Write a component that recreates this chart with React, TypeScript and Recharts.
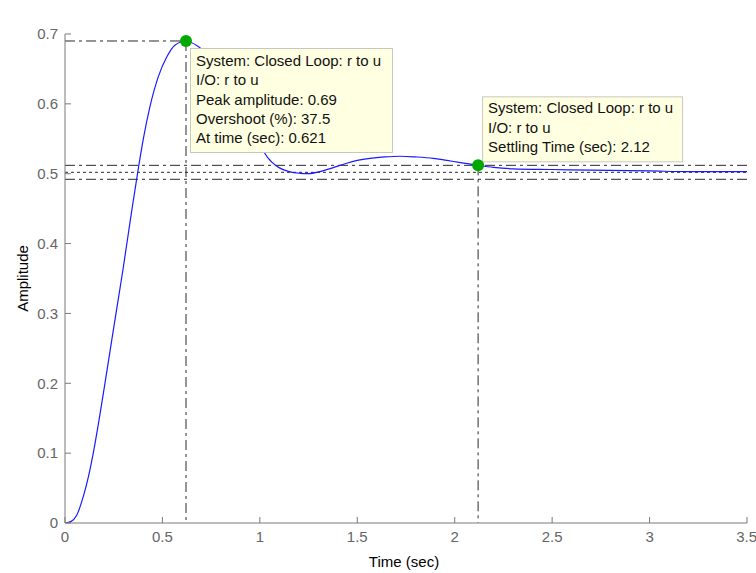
import React from 'react';
import { LineChart, Line, XAxis, YAxis, ReferenceLine, ReferenceDot, Label } from 'recharts';

const timeSec = [
  0, 0.03, 0.06, 0.094, 0.12, 0.145, 0.175, 0.205, 0.248, 0.296, 0.342, 0.376,
  0.402, 0.436, 0.479, 0.522, 0.564, 0.621, 0.684, 0.75, 0.8, 0.85, 0.9, 0.95, 0.99,
  1.026, 1.06, 1.103, 1.15, 1.206, 1.25, 1.308, 1.38, 1.445, 1.5, 1.565, 1.64, 1.719,
  1.8, 1.89, 1.96, 2.03, 2.12, 2.2, 2.3, 2.5, 2.7, 3.0, 3.2, 3.5,
];
const amplitude = [
  0, 0.002, 0.011, 0.038, 0.066, 0.1, 0.148, 0.2, 0.276, 0.36, 0.446, 0.507,
  0.55, 0.596, 0.639, 0.667, 0.684, 0.69, 0.682, 0.665, 0.646, 0.624, 0.6, 0.574, 0.552,
  0.529, 0.517, 0.508, 0.503, 0.5006, 0.5, 0.503, 0.509, 0.515, 0.519, 0.522, 0.524, 0.525,
  0.524, 0.522, 0.519, 0.516, 0.512, 0.509, 0.507, 0.506, 0.505, 0.504, 0.503, 0.503,
];
const xTicks = [0, 0.5, 1, 1.5, 2, 2.5, 3, 3.5];
const yTicks = [0, 0.1, 0.2, 0.3, 0.4, 0.5, 0.6, 0.7];

const peakTime = 0.621;
const peakAmp = 0.69;
const settleTime = 2.12;
const finalValue = 0.502;
const bandHigh = 0.512;
const bandLow = 0.492;

const peakTipLines = [
  'System: Closed Loop: r to u',
  'I/O: r to u',
  'Peak amplitude: 0.69',
  'Overshoot (%): 37.5',
  'At time (sec): 0.621',
];
const settleTipLines = [
  'System: Closed Loop: r to u',
  'I/O: r to u',
  'Settling Time (sec): 2.12',
];

const data = timeSec.map((t, i) => ({ t, v: amplitude[i] }));

const FONT = '"Liberation Sans", Arial, Helvetica, sans-serif';
const AXIS = '#7a7a7a';
const REF = '#2a2a2a';
const DASHDOT = '10 4 3 4';

const makeTip = (lines: string[], dx: number, dy: number, w: number, h: number, tx: number, ty: number) =>
  (props: any) => {
    const { cx, cy } = props;
    return (
      <g>
        <rect x={cx + dx + 0.5} y={cy + dy + 0.5} width={w} height={h} fill="#ffffe1" stroke="#c8c8c0" />
        {lines.map((s, i) => (
          <text key={i} x={cx + dx + tx} y={cy + dy + ty + i * 19.3} fontSize={15} fill="#111" fontFamily={FONT}>
            {s}
          </text>
        ))}
        <circle cx={cx} cy={cy} r={6} fill="#00a800" />
      </g>
    );
  };

export default function App() {
  return (
    <div style={{ position: 'absolute', left: 0, top: 0, background: '#fff' }}>
      <LineChart
        width={756}
        height={573}
        data={data}
        margin={{ top: 34, right: 9, bottom: 0, left: 0 }}
        style={{ fontFamily: FONT }}
      >
        <XAxis
          dataKey="t"
          type="number"
          domain={[0, 3.5]}
          ticks={xTicks}
          allowDataOverflow
          height={50}
          stroke={AXIS}
          tickSize={-6}
          tickMargin={14}
          tick={{ fontSize: 15, fill: '#666' }}
          tickFormatter={(v: number) => String(v)}
        >
          <Label
            content={(p: any) => {
              const vb = p.viewBox;
              return (
                <text x={vb.x + vb.width / 2 - 2} y={vb.y + 44} textAnchor="middle" fontSize={15} fill="#000" fontFamily={FONT}>
                  Time (sec)
                </text>
              );
            }}
          />
        </XAxis>
        <XAxis
          xAxisId="top"
          orientation="top"
          type="number"
          domain={[0, 3.5]}
          ticks={xTicks}
          allowDataOverflow
          height={0}
          stroke={AXIS}
          tickSize={-6}
          tick={false}
        >
          <Label
            content={(p: any) => {
              const vb = p.viewBox;
              return (
                <text x={vb.x + vb.width / 2 - 3} y={vb.y - 14} textAnchor="middle" fontSize={15} fill="#000" fontFamily={FONT}>
                  Step Response
                </text>
              );
            }}
          />
        </XAxis>
        <YAxis
          type="number"
          domain={[0, 0.7]}
          ticks={yTicks}
          allowDataOverflow
          width={65}
          stroke={AXIS}
          tickSize={-6}
          tickMargin={13}
          tick={{ fontSize: 15, fill: '#666' }}
          tickFormatter={(v: number) => String(v)}
        >
          <Label
            content={(p: any) => {
              const vb = p.viewBox;
              const cy = vb.y + vb.height / 2;
              return (
                <text x={28} y={cy} transform={`rotate(-90, 28, ${cy})`} textAnchor="middle" fontSize={15} fill="#000" fontFamily={FONT}>
                  Amplitude
                </text>
              );
            }}
          />
        </YAxis>
        <YAxis
          yAxisId="right"
          orientation="right"
          type="number"
          domain={[0, 0.7]}
          ticks={yTicks}
          allowDataOverflow
          width={0}
          stroke={AXIS}
          tickSize={-6}
          tick={false}
        />
        <ReferenceLine segment={[{ x: 0, y: peakAmp }, { x: peakTime, y: peakAmp }]} stroke={REF} strokeDasharray={DASHDOT} />
        <ReferenceLine segment={[{ x: peakTime, y: peakAmp }, { x: peakTime, y: 0 }]} stroke={REF} strokeDasharray={DASHDOT} />
        <ReferenceLine y={bandHigh} stroke={REF} strokeDasharray={DASHDOT} />
        <ReferenceLine y={bandLow} stroke={REF} strokeDasharray={DASHDOT} />
        <ReferenceLine y={finalValue} stroke={REF} strokeDasharray="3 3" />
        <ReferenceLine segment={[{ x: settleTime, y: bandHigh }, { x: settleTime, y: 0 }]} stroke={REF} strokeDasharray={DASHDOT} />
        <Line
          dataKey="v"
          type="monotone"
          stroke="#1a1aff"
          strokeWidth={1.2}
          dot={false}
          activeDot={false}
          isAnimationActive={false}
        />
        <ReferenceDot
          x={peakTime}
          y={peakAmp}
          shape={makeTip(peakTipLines, 4, 7, 202, 104, 6, 18)}
        />
        <ReferenceDot
          x={settleTime}
          y={bandHigh}
          shape={makeTip(settleTipLines, 4, -69, 200, 65, 6, 17)}
        />
      </LineChart>
    </div>
  );
}
